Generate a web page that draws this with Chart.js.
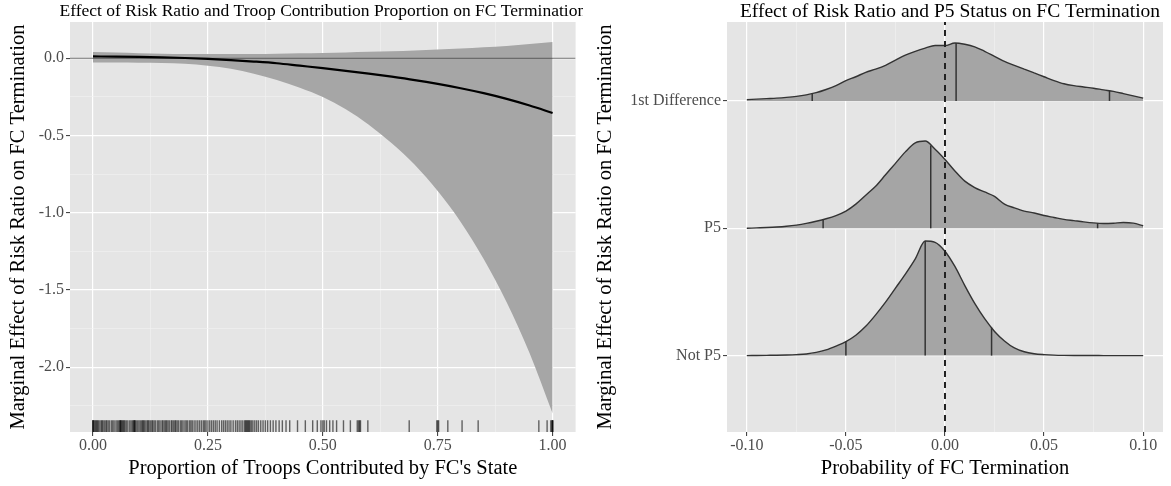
<!DOCTYPE html>
<html>
<head>
<meta charset="utf-8">
<script src="https://cdn.jsdelivr.net/npm/chart.js@4.4.1/dist/chart.umd.min.js"></script>
<style>
body { margin: 0; background: #fff; }
#wrap { position: relative; width: 1171px; height: 486px; overflow: hidden; }
#left { position: absolute; left: 0; top: 0; }
#right { position: absolute; left: 590px; top: 0; }
</style>
</head>
<body>
<div id="wrap">
  <canvas id="left" width="583" height="486"></canvas>
  <canvas id="right" width="581" height="486"></canvas>
</div>
<script>
// left panel: marginal effect vs troop proportion
const propX = [0, 0.05, 0.10, 0.15, 0.20, 0.25, 0.30, 0.35, 0.40, 0.45, 0.50,
               0.55, 0.60, 0.65, 0.70, 0.75, 0.80, 0.85, 0.90, 0.95, 1.00];
const effectMean = [0.012, 0.011, 0.009, 0.006, 0.002, -0.004, -0.012, -0.021, -0.032, -0.048, -0.064,
                    -0.081, -0.099, -0.119, -0.141, -0.166, -0.194, -0.226, -0.263, -0.306, -0.354];
const effectUpper = [0.040, 0.037, 0.033, 0.030, 0.028, 0.027, 0.027, 0.028, 0.030, 0.032, 0.035,
                     0.038, 0.042, 0.046, 0.051, 0.057, 0.064, 0.072, 0.080, 0.092, 0.105];
const effectLower = [-0.028, -0.028, -0.029, -0.031, -0.036, -0.048, -0.068, -0.100, -0.140, -0.190, -0.250,
                     -0.330, -0.430, -0.550, -0.690, -0.860, -1.060, -1.300, -1.580, -1.910, -2.300];
const rugX = [
  0.000,0.000,0.000,0.002,0.004,0.006,0.008,0.010,0.012,0.015,0.018,0.020,0.022,0.025,0.028,0.030,
  0.033,0.036,0.040,0.043,0.046,0.050,0.053,0.056,0.058,0.060,0.060,0.062,0.064,0.066,0.068,0.070,
  0.073,0.076,0.080,0.083,0.086,0.088,0.090,0.090,0.092,0.094,0.097,0.100,0.103,0.106,0.108,0.110,
  0.112,0.115,0.118,0.120,0.122,0.125,0.128,0.130,0.133,0.136,0.140,0.143,0.146,0.150,0.152,0.155,
  0.158,0.160,0.163,0.166,0.170,0.172,0.175,0.178,0.180,0.183,0.186,0.190,0.193,0.196,0.200,0.203,
  0.206,0.210,0.213,0.216,0.220,0.224,0.228,0.232,0.236,0.240,0.243,0.246,0.250,0.254,0.258,0.262,
  0.266,0.270,0.275,0.280,0.284,0.288,0.292,0.296,0.300,0.305,0.310,0.314,0.318,0.322,0.326,0.330,
  0.332,0.334,0.336,0.338,0.340,0.342,0.345,0.348,0.352,0.356,0.360,0.365,0.370,0.375,0.380,0.386,
  0.392,0.398,0.405,0.412,0.420,0.428,0.445,0.462,0.478,0.488,0.496,0.500,0.503,0.508,0.515,0.522,
  0.530,0.545,0.560,0.575,0.578,0.580,0.582,0.598,0.688,0.748,0.750,0.752,0.772,0.803,0.838,0.970,
  0.988,0.996,0.998,1.000,1.000,1.000
];
const leftXTicks = [0, 0.125, 0.25, 0.375, 0.5, 0.625, 0.75, 0.875, 1];
const leftYTicks = [-2.25, -2, -1.75, -1.5, -1.25, -1, -0.75, -0.5, -0.25, 0];
const leftXMin = -0.05, leftXMax = 1.05;
const leftYMin = -2.42, leftYMax = 0.235;
const refY = 0;
const rugY = -2.382;

// right panel: ridgeline densities
const probX = [-0.100,-0.095,-0.090,-0.085,-0.080,-0.075,-0.070,-0.065,-0.060,-0.055,-0.050,
               -0.045,-0.040,-0.035,-0.030,-0.025,-0.020,-0.015,-0.010,-0.005,0.000,
               0.005,0.010,0.015,0.020,0.025,0.030,0.035,0.040,0.045,0.050,
               0.055,0.060,0.065,0.070,0.075,0.080,0.085,0.090,0.095,0.100];
const densNotP5 = [0.000,0.001,0.002,0.003,0.005,0.008,0.013,0.025,0.045,0.075,0.110,
                   0.160,0.230,0.320,0.420,0.530,0.640,0.760,0.900,0.890,0.820,
                   0.700,0.550,0.410,0.290,0.190,0.115,0.060,0.030,0.015,0.008,
                   0.004,0.002,0.001,0.001,0.001,0.000,0.000,0.000,0.000,0.000];
const densP5 = [0.000,0.003,0.006,0.010,0.016,0.025,0.038,0.055,0.075,0.100,0.135,
                0.190,0.260,0.330,0.420,0.510,0.600,0.670,0.685,0.620,0.540,
                0.450,0.370,0.320,0.285,0.250,0.190,0.160,0.135,0.120,0.100,
                0.085,0.070,0.060,0.050,0.042,0.038,0.040,0.045,0.040,0.020];
const densFirstDiff = [0.010,0.014,0.018,0.022,0.028,0.036,0.048,0.065,0.090,0.120,0.160,
                       0.190,0.225,0.250,0.280,0.320,0.360,0.390,0.415,0.435,0.435,
                       0.455,0.445,0.425,0.390,0.350,0.310,0.280,0.250,0.220,0.190,
                       0.160,0.135,0.120,0.110,0.100,0.087,0.075,0.058,0.040,0.022];
const ridgeLabels = ["Not P5", "P5", "1st Difference"];
const quantNotP5 = [-0.05, -0.01, 0.0235];
const quantNotP5H = [0.11, 0.90, 0.22];
const quantP5 = [-0.0615, -0.0072, 0.077];
const quantP5H = [0.07, 0.65, 0.04];
const quantFirstDiff = [-0.067, 0.0056, 0.083];
const quantFirstDiffH = [0.058, 0.455, 0.08];
const rightXTicks = [-0.1, -0.075, -0.05, -0.025, 0, 0.025, 0.05, 0.075, 0.1];
const rightXMin = -0.11, rightXMax = 0.11;
const rightYMin = 0.4, rightYMax = 3.62;

const serif = "'Liberation Serif', 'DejaVu Serif', serif";
const tickGrey = '#4d4d4d';

const panelBg = {
    id: 'panelBg',
    beforeDraw(chart) {
        const a = chart.chartArea;
        const ctx = chart.ctx;
        ctx.save();
        ctx.fillStyle = '#e5e5e5';
        ctx.fillRect(a.left, a.top, a.width, a.height);
        ctx.restore();
    }
};

const panelTitle = {
    id: 'panelTitle',
    afterDraw(chart, args, opts) {
        const a = chart.chartArea;
        const ctx = chart.ctx;
        ctx.save();
        ctx.font = opts.size + 'px ' + serif;
        ctx.fillStyle = '#000';
        ctx.textAlign = 'center';
        ctx.textBaseline = 'middle';
        ctx.fillText(opts.text, (a.left + a.right) / 2 + (opts.dx || 0), opts.y);
        ctx.restore();
    }
};

function near(v, step) {
    return Math.abs(v / step - Math.round(v / step)) < 1e-6;
}

function gridFor(step) {
    return {
        color: c => near(c.tick.value, step) ? '#ffffff' : '#f2f2f2',
        lineWidth: c => near(c.tick.value, step) ? 1.2 : 0.6,
        tickColor: c => near(c.tick.value, step) ? '#333333' : 'rgba(0,0,0,0)',
        tickWidth: 1,
        tickLength: 4,
        drawTicks: true
    };
}

const tickFont = { family: serif, size: 16 };
const axisFont = { family: serif, size: 20.5 };

// ---- left chart
new Chart(document.getElementById('left'), {
    type: 'line',
    data: {
        datasets: [
            {
                data: propX.map((x, i) => ({x: x, y: effectMean[i]})),
                borderColor: '#000', borderWidth: 2.2, pointRadius: 0,
                cubicInterpolationMode: 'monotone', fill: false, order: 0
            },
            {
                data: [{x: leftXMin, y: refY}, {x: leftXMax, y: refY}],
                borderColor: 'rgba(60,60,60,0.7)', borderWidth: 1, pointRadius: 0,
                fill: false, order: 1
            },
            {
                data: propX.map((x, i) => ({x: x, y: effectUpper[i]})),
                borderWidth: 0, borderColor: 'rgba(0,0,0,0)', pointRadius: 0,
                backgroundColor: '#a6a6a6', cubicInterpolationMode: 'monotone',
                fill: '+1', order: 2
            },
            {
                data: propX.map((x, i) => ({x: x, y: effectLower[i]})),
                borderWidth: 0, borderColor: 'rgba(0,0,0,0)', pointRadius: 0,
                cubicInterpolationMode: 'monotone', fill: false, order: 3
            },
            {
                type: 'scatter',
                data: rugX.map(x => ({x: x, y: rugY})),
                pointStyle: 'line', rotation: 90, pointRadius: 6,
                borderColor: 'rgba(0,0,0,0.58)', borderWidth: 1.4, order: 4
            }
        ]
    },
    options: {
        responsive: false,
        animation: false,
        events: [],
        devicePixelRatio: 1,
        layout: { padding: { top: 22, right: 3, left: 0, bottom: 0 } },
        scales: {
            x: {
                type: 'linear', min: leftXMin, max: leftXMax,
                afterBuildTicks: s => { s.ticks = leftXTicks.map(v => ({value: v})); },
                afterFit: s => { s.height = 54; },
                grid: gridFor(0.25),
                border: { display: false },
                ticks: {
                    autoSkip: false, maxRotation: 0, padding: 0,
                    color: tickGrey, font: tickFont,
                    callback: v => near(v, 0.25) ? v.toFixed(2) : ''
                },
                title: {
                    display: true, text: "Proportion of Troops Contributed by FC's State",
                    color: '#000', font: axisFont,
                    padding: { top: 0, bottom: 5 }
                }
            },
            y: {
                type: 'linear', min: leftYMin, max: leftYMax,
                afterBuildTicks: s => { s.ticks = leftYTicks.map(v => ({value: v})); },
                afterFit: s => { s.width = 70; },
                grid: gridFor(0.5),
                border: { display: false },
                ticks: {
                    autoSkip: false, padding: 2,
                    color: tickGrey, font: tickFont,
                    callback: v => near(v, 0.5) ? v.toFixed(1) : ''
                },
                title: {
                    display: true, text: 'Marginal Effect of Risk Ratio on FC Termination',
                    color: '#000', font: axisFont,
                    padding: { top: 6, bottom: 0 }
                }
            }
        },
        plugins: {
            legend: { display: false },
            tooltip: { enabled: false },
            panelTitle: { text: 'Effect of Risk Ratio and Troop Contribution Proportion on FC Termination', size: 17.5, y: 11 }
        }
    },
    plugins: [panelBg, panelTitle]
});

// ---- right chart
function ridge(dens, base) {
    return probX.map((x, i) => ({x: x, y: base + dens[i]}));
}

function quantLines(qs, hs, base) {
    return qs.map((q, i) => ({
        data: [{x: q, y: base}, {x: q, y: base + hs[i]}],
        borderColor: '#333', borderWidth: 1.5, pointRadius: 0, fill: false, order: 1
    }));
}

const ridgeStyle = {
    borderColor: '#333', borderWidth: 1.4, pointRadius: 0,
    backgroundColor: '#a5a5a5', cubicInterpolationMode: 'monotone', order: 2
};

new Chart(document.getElementById('right'), {
    type: 'line',
    data: {
        datasets: [
            {
                data: [{x: 0, y: rightYMin}, {x: 0, y: rightYMax}],
                borderColor: '#222', borderWidth: 2, borderDash: [6, 5],
                pointRadius: 0, fill: false, order: 0
            },
            ...quantLines(quantFirstDiff, quantFirstDiffH, 3),
            ...quantLines(quantP5, quantP5H, 2),
            ...quantLines(quantNotP5, quantNotP5H, 1),
            Object.assign({ data: ridge(densFirstDiff, 3), fill: { value: 3 } }, ridgeStyle),
            Object.assign({ data: ridge(densP5, 2), fill: { value: 2 } }, ridgeStyle),
            Object.assign({ data: ridge(densNotP5, 1), fill: { value: 1 } }, ridgeStyle)
        ]
    },
    options: {
        responsive: false,
        animation: false,
        events: [],
        devicePixelRatio: 1,
        layout: { padding: { top: 22, right: 8, left: 0, bottom: 0 } },
        scales: {
            x: {
                type: 'linear', min: rightXMin, max: rightXMax,
                afterBuildTicks: s => { s.ticks = rightXTicks.map(v => ({value: v})); },
                afterFit: s => { s.height = 54; },
                grid: gridFor(0.05),
                border: { display: false },
                ticks: {
                    autoSkip: false, maxRotation: 0, padding: 0,
                    color: tickGrey, font: tickFont,
                    callback: v => near(v, 0.05) ? v.toFixed(2) : ''
                },
                title: {
                    display: true, text: 'Probability of FC Termination',
                    color: '#000', font: axisFont,
                    padding: { top: 0, bottom: 5 }
                }
            },
            y: {
                type: 'linear', min: rightYMin, max: rightYMax,
                afterBuildTicks: s => { s.ticks = [1, 2, 3].map(v => ({value: v})); },
                afterFit: s => { s.width = 137; },
                grid: {
                    color: '#ffffff', lineWidth: 1.2,
                    tickColor: '#333333', tickWidth: 1, tickLength: 4
                },
                border: { display: false },
                ticks: {
                    autoSkip: false, padding: 2,
                    color: tickGrey, font: tickFont,
                    callback: v => ridgeLabels[Math.round(v) - 1]
                },
                title: {
                    display: true, text: 'Marginal Effect of Risk Ratio on FC Termination',
                    color: '#000', font: axisFont,
                    padding: { top: 3, bottom: 0 }
                }
            }
        },
        plugins: {
            legend: { display: false },
            tooltip: { enabled: false },
            panelTitle: { text: 'Effect of Risk Ratio and P5 Status on FC Termination', size: 19.5, y: 12, dx: 5 }
        }
    },
    plugins: [panelBg, panelTitle]
});
</script>
</body>
</html>
